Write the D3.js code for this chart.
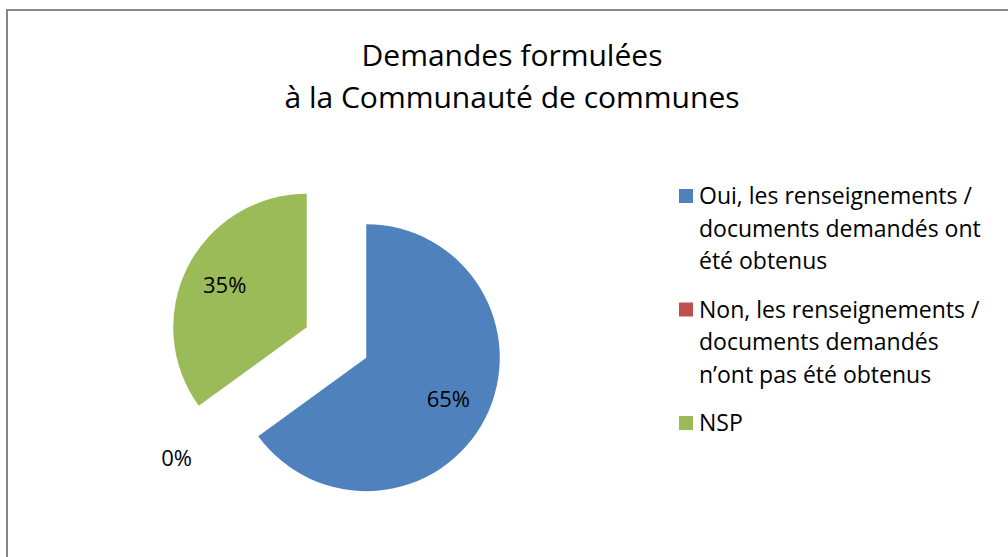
<!DOCTYPE html>
<html>
<head>
<meta charset="utf-8">
<script src="https://cdn.jsdelivr.net/npm/d3@7"></script>
<style>
  html, body { margin: 0; padding: 0; background: #fff; }
  svg { display: block; }
  text { font-family: "Open Sans", sans-serif; fill: #000; }
</style>
</head>
<body>
<div id="chart"></div>
<script>
'use strict';

// data
var categories = [
    'Oui, les renseignements / documents demandés ont été obtenus',
    'Non, les renseignements / documents demandés n\u2019ont pas été obtenus',
    'NSP'
];
var values = [65, 0, 35];
var colors = ['#4F81BD', '#C0504D', '#9BBB59'];
var legend_lines = [
    ['Oui, les renseignements /', 'documents demandés ont', 'été obtenus'],
    ['Non, les renseignements /', 'documents demandés', 'n\u2019ont pas été obtenus'],
    ['NSP']
];
var title_lines = ['Demandes formulées', 'à la Communauté de communes'];

window.addEventListener('load', function () {
    var width = 1008,
        height = 557,
        cx = 336.5,
        cy = 342.5,
        radius = 133.5,
        explode = 33.4;

    var svg = d3.select('#chart')
        .append('svg')
        .attr('width', width)
        .attr('height', height);

    // chart frame (bottom/right edges fall outside the picture)
    svg.append('rect')
        .attr('x', 7)
        .attr('y', 10)
        .attr('width', 1010)
        .attr('height', 600)
        .attr('fill', 'none')
        .attr('stroke', '#868686')
        .attr('stroke-width', 2);

    // title
    svg.append('g')
        .selectAll('text')
        .data(title_lines)
        .join('text')
        .attr('x', 512)
        .attr('y', function (d, i) { return 66 + i * 42; })
        .attr('text-anchor', 'middle')
        .attr('font-size', 30)
        .text(function (d) { return d; });

    var pie = d3.pie().sort(null).value(function (d) { return d; });
    var arcs = pie(values);
    var arc = d3.arc().innerRadius(0).outerRadius(radius);

    function offset(d, dist) {
        var a = (d.startAngle + d.endAngle) / 2;
        return [Math.sin(a) * dist, -Math.cos(a) * dist];
    }

    var pie_g = svg.append('g')
        .attr('transform', 'translate(' + cx + ',' + cy + ')');

    pie_g.selectAll('path')
        .data(arcs)
        .join('path')
        .attr('d', arc)
        .attr('fill', function (d, i) { return colors[i]; })
        .attr('transform', function (d) {
            var o = offset(d, explode);
            return 'translate(' + o[0] + ',' + o[1] + ')';
        });

    // percentage labels
    pie_g.selectAll('text')
        .data(arcs)
        .join('text')
        .attr('transform', function (d) {
            var o = offset(d, explode),
                l = offset(d, d.value === 0 ? radius * 1.23 : radius * 0.69);
            return 'translate(' + (o[0] + l[0]) + ',' + (o[1] + l[1]) + ')';
        })
        .attr('text-anchor', 'middle')
        .attr('dy', '0.35em')
        .attr('font-size', 22)
        .text(function (d) { return d.value + '%'; });

    // legend
    var legend = svg.append('g');
    var item = legend.selectAll('g')
        .data(legend_lines)
        .join('g')
        .attr('transform', function (d, i) {
            return 'translate(679,' + (189 + i * 113.5) + ')';
        });

    item.append('rect')
        .attr('width', 14)
        .attr('height', 14)
        .attr('fill', function (d, i) { return colors[i]; });

    item.selectAll('text')
        .data(function (d) { return d; })
        .join('text')
        .attr('x', 20)
        .attr('y', function (d, i) { return 7 + i * 32.5; })
        .attr('dy', '0.35em')
        .attr('font-size', 23)
        .text(function (d) { return d; });
});
</script>
</body>
</html>
